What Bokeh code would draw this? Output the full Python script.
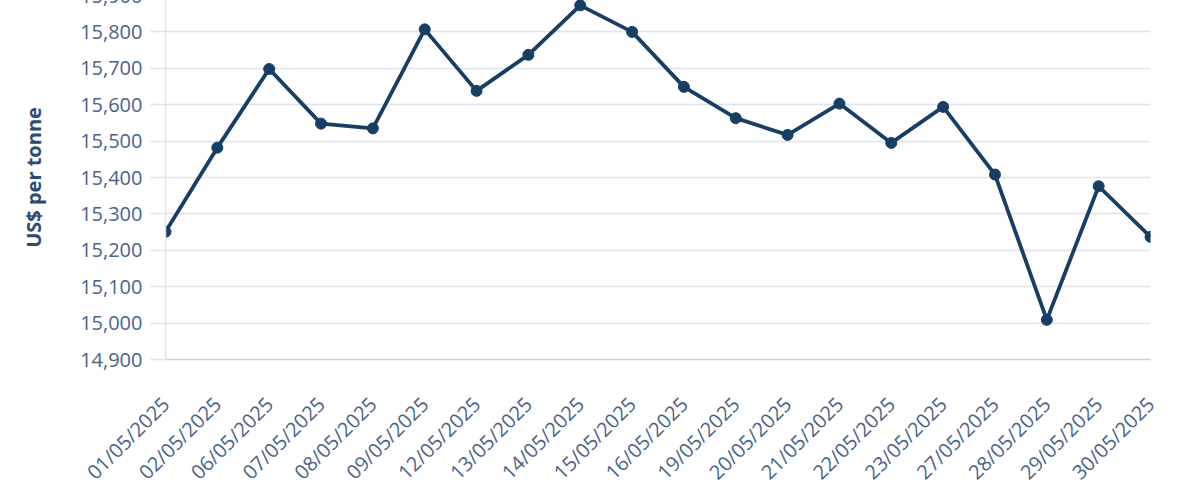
from math import pi
from bokeh.plotting import figure
from bokeh.models import Range1d, FixedTicker, NumeralTickFormatter
from bokeh.embed import file_html
from bokeh.resources import INLINE

dates = ["01/05/2025", "02/05/2025", "06/05/2025", "07/05/2025", "08/05/2025",
         "09/05/2025", "12/05/2025", "13/05/2025", "14/05/2025", "15/05/2025",
         "16/05/2025", "19/05/2025", "20/05/2025", "21/05/2025", "22/05/2025",
         "23/05/2025", "27/05/2025", "28/05/2025", "29/05/2025", "30/05/2025"]
prices = [15251, 15482, 15698, 15548, 15535,
          15807, 15638, 15737, 15873, 15800,
          15649, 15563, 15517, 15603, 15495,
          15594, 15408, 15009, 15376, 15237]
y_ticks = [14900, 15000, 15100, 15200, 15300, 15400, 15500, 15600, 15700, 15800, 15900]

NAVY = "#173f66"
LABEL = "#4a6488"
GRID = "#dfe3eb"
FONT = "Open Sans"

x = list(range(len(dates)))

p = figure(frame_width=985, frame_height=364, output_backend="svg", toolbar_location=None,
           x_range=Range1d(0, len(dates) - 1), y_range=Range1d(y_ticks[0], y_ticks[-1]),
           min_border_left=165, min_border_right=50, min_border_top=20, min_border_bottom=0)
p.styles = {"margin-top": "-25px"}
p.outline_line_color = None
p.background_fill_color = "white"
p.border_fill_color = "white"

p.line(x, prices, line_width=3.8, color=NAVY)
p.scatter(x, prices, size=11, color=NAVY)

p.xgrid.grid_line_color = None
p.ygrid.grid_line_color = GRID
p.ygrid.grid_line_width = 1.5

p.xaxis.ticker = FixedTicker(ticks=x)
p.xaxis.major_label_overrides = {i: d for i, d in enumerate(dates)}
p.xaxis.major_label_orientation = pi / 4
p.xaxis.major_tick_line_color = None
p.xaxis.minor_tick_line_color = None
p.xaxis.axis_line_color = "#c9d0da"
p.xaxis.axis_line_width = 1.5
p.xaxis.major_label_text_font = FONT
p.xaxis.major_label_text_font_size = "20px"
p.xaxis.major_label_text_color = LABEL
p.xaxis.major_label_standoff = 35

p.yaxis.ticker = FixedTicker(ticks=y_ticks)
p.yaxis.formatter = NumeralTickFormatter(format="0,0")
p.yaxis.major_tick_in = 0
p.yaxis.major_tick_out = 15
p.yaxis.major_tick_line_color = GRID
p.yaxis.major_tick_line_width = 1.5
p.yaxis.minor_tick_line_color = None
p.yaxis.axis_line_color = GRID
p.yaxis.axis_line_width = 1.5
p.yaxis.major_label_text_font = FONT
p.yaxis.major_label_text_font_size = "20px"
p.yaxis.major_label_text_color = LABEL
p.yaxis.major_label_standoff = 8
p.yaxis.axis_label = "US$ per tonne"
p.yaxis.axis_label_text_font = FONT
p.yaxis.axis_label_text_font_style = "bold"
p.yaxis.axis_label_text_font_size = "20px"
p.yaxis.axis_label_text_color = "#2c4b70"
p.yaxis.axis_label_standoff = 30

open("out.html", "w").write(file_html(p, INLINE))
